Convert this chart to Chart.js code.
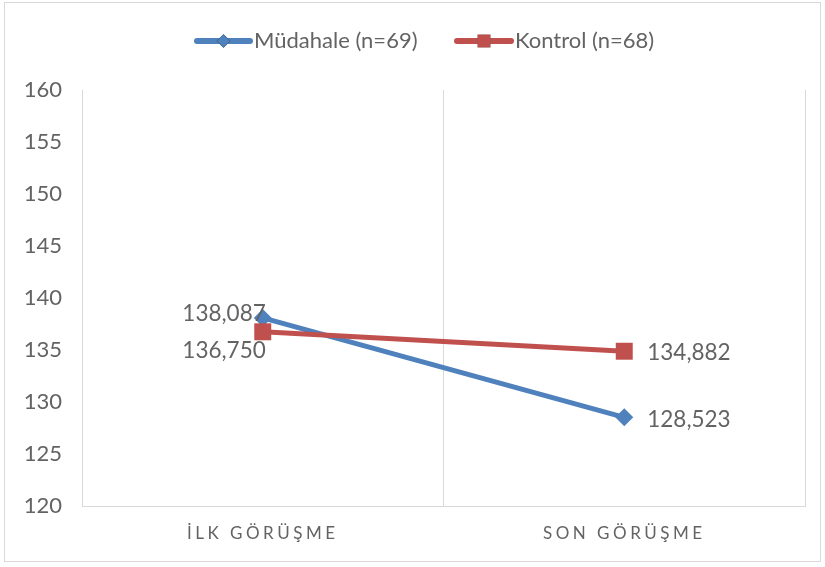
<!DOCTYPE html>
<html>
<head>
<meta charset="utf-8">
<script src="https://cdn.jsdelivr.net/npm/chart.js@4"></script>
<style>
    html, body { margin: 0; padding: 0; background: #fff; }
    #wrap { width: 825px; height: 567px; }
</style>
</head>
<body>
<div id="wrap"><canvas id="chart" width="825" height="567"></canvas></div>
<script>
const categories = ['İLK GÖRÜŞME', 'SON GÖRÜŞME'];
const seriesNames = ['Müdahale (n=69)', 'Kontrol (n=68)'];
const mudahaleValues = [138.087, 128.523];
const kontrolValues = [136.750, 134.882];
const yTicks = [120, 125, 130, 135, 140, 145, 150, 155, 160];

const FONT = 'Lato, "Open Sans", sans-serif';
const GREY_TEXT = '#636363';
const GRID = '#d9d9d9';

// label placement per point: [dx, dy, align]
const labelPlacement = [
    [[3, -4, 'right'], [23, 2, 'left']],
    [[3, 19, 'right'], [23, 2, 'left']]
];

const fmt = v => v.toFixed(3).replace('.', ',');

const frame = {
    id: 'frame',
    beforeDraw(chart) {
        const ctx = chart.ctx;
        ctx.save();
        ctx.fillStyle = '#fff';
        ctx.fillRect(0, 0, chart.width, chart.height);
        ctx.strokeStyle = GRID;
        ctx.lineWidth = 1;
        ctx.strokeRect(4.5, 2.5, 816, 559);
        ctx.restore();

        // spaced-out category labels like the original
        const xs = chart.scales.x;
        if (!xs._spaced) {
            const orig = xs.drawLabels;
            xs.drawLabels = function (area) {
                this.ctx.save();
                this.ctx.letterSpacing = '3.5px';
                orig.call(this, area);
                this.ctx.restore();
            };
            xs._spaced = true;
        }
    }
};

const valueLabels = {
    id: 'valueLabels',
    afterDatasetsDraw(chart) {
        const ctx = chart.ctx;
        ctx.save();
        ctx.font = '22.5px ' + FONT;
        ctx.fillStyle = GREY_TEXT;
        ctx.textBaseline = 'middle';
        chart.data.datasets.forEach((ds, i) => {
            const meta = chart.getDatasetMeta(i);
            meta.data.forEach((pt, j) => {
                const [dx, dy, align] = labelPlacement[i][j];
                ctx.textAlign = align;
                ctx.fillText(fmt(ds.data[j]), pt.x + dx, pt.y + dy);
            });
        });
        ctx.restore();
    }
};

const topLegend = {
    id: 'topLegend',
    afterDraw(chart) {
        const ctx = chart.ctx;
        const y = 41;
        const items = [
            { ds: chart.data.datasets[0], x0: 197, x1: 250 },
            { ds: chart.data.datasets[1], x0: 457, x1: 511 }
        ];
        ctx.save();
        ctx.font = '22px ' + FONT;
        ctx.textBaseline = 'middle';
        items.forEach(it => {
            ctx.strokeStyle = it.ds.borderColor;
            ctx.lineWidth = 6;
            ctx.lineCap = 'round';
            ctx.beginPath();
            ctx.moveTo(it.x0, y);
            ctx.lineTo(it.x1, y);
            ctx.stroke();
            Chart.helpers.drawPoint(ctx, {
                pointStyle: it.ds.pointStyle,
                radius: it.ds.pointRadius * 0.75,
                borderWidth: 0
            }, (it.x0 + it.x1) / 2, y);
            ctx.fillStyle = it.ds.borderColor;
            ctx.fill();
            ctx.fillStyle = GREY_TEXT;
            ctx.textAlign = 'left';
            ctx.fillText(it.ds.label, it.x1 + 4, y);
        });
        ctx.restore();
    }
};

new Chart(document.getElementById('chart'), {
    type: 'line',
    data: {
        labels: categories,
        datasets: [
            {
                label: seriesNames[0],
                data: mudahaleValues,
                borderColor: '#4F81BD',
                backgroundColor: '#4F81BD',
                borderWidth: 5,
                pointStyle: 'rectRot',
                pointRadius: 9,
                pointBorderWidth: 0,
                order: 1
            },
            {
                label: seriesNames[1],
                data: kontrolValues,
                borderColor: '#C0504D',
                backgroundColor: '#C0504D',
                borderWidth: 5,
                pointStyle: 'rect',
                pointRadius: 12,
                pointBorderWidth: 0,
                order: 0
            }
        ]
    },
    options: {
        responsive: false,
        animation: false,
        layout: { padding: { left: 0, right: 20, top: 90, bottom: 0 } },
        plugins: {
            legend: { display: false },
            tooltip: { enabled: false }
        },
        scales: {
            x: {
                offset: true,
                grid: { display: true, offset: true, color: GRID, drawTicks: false },
                border: { display: true, color: GRID },
                ticks: { color: GREY_TEXT, font: { family: FONT, size: 17 }, padding: 17 },
                afterFit: s => { s.height = 61; }
            },
            y: {
                min: 120,
                max: 160,
                afterBuildTicks: s => { s.ticks = yTicks.map(v => ({ value: v })); },
                grid: { display: false, drawTicks: false },
                border: { display: false },
                ticks: { color: GREY_TEXT, font: { family: FONT, size: 22 }, padding: 20 },
                afterFit: s => { s.width = 82; }
            }
        }
    },
    plugins: [frame, valueLabels, topLegend]
});
</script>
</body>
</html>
